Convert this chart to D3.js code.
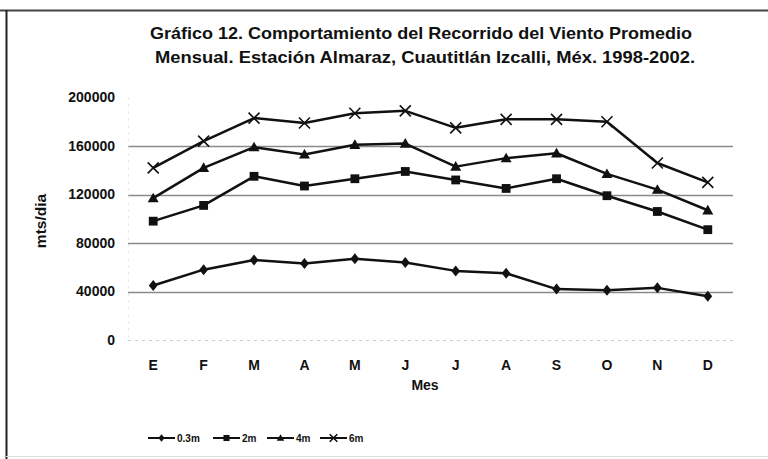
<!DOCTYPE html>
<html>
<head>
<meta charset="utf-8">
<script src="https://cdn.jsdelivr.net/npm/d3@7"></script>
<style>
  html, body { margin: 0; padding: 0; background: #fff; }
  svg { display: block; }
  text { font-family: "Liberation Sans", Arial, sans-serif; font-weight: bold; fill: #111; }
</style>
</head>
<body>
<svg id="chart" width="768" height="459"></svg>
<script>
// Monthly wind run (m/day) at four measurement heights
const months = ["E", "F", "M", "A", "M", "J", "J", "A", "S", "O", "N", "D"];
const serie03m = [45000, 58000, 66000, 63000, 67000, 64000, 57000, 55000, 42000, 41000, 43000, 36000];
const serie2m  = [98000, 111000, 135000, 127000, 133000, 139000, 132000, 125000, 133000, 119000, 106000, 91000];
const serie4m  = [117000, 142000, 159000, 153000, 161000, 162000, 143000, 150000, 154000, 137000, 124000, 107000];
const serie6m  = [142000, 164000, 183000, 179000, 187000, 189000, 175000, 182000, 182000, 180000, 146000, 130000];
const yTicks = [0, 40000, 80000, 120000, 160000, 200000];
const seriesNames = ["0.3m", "2m", "4m", "6m"];
const markerTypes = ["diamond", "square", "triangle", "x"];

const series = [serie03m, serie2m, serie4m, serie6m].map((values, i) => ({
  name: seriesNames[i], marker: markerTypes[i], values
}));

const svg = d3.select("#chart");
const W = 768, H = 459;
const plot = { left: 128, right: 733, top: 97.5, bottom: 340 };
const FONT = "Liberation Sans, Arial, sans-serif";

// frame
svg.append("line").attr("x1", 0).attr("x2", W).attr("y1", 10.5).attr("y2", 10.5)
  .attr("stroke", "#444").attr("stroke-width", 2);
svg.append("line").attr("x1", 6.5).attr("x2", 6.5).attr("y1", 10).attr("y2", H)
  .attr("stroke", "#222").attr("stroke-width", 2);
svg.append("line").attr("x1", 6).attr("x2", W).attr("y1", 456.5).attr("y2", 456.5)
  .attr("stroke", "#ddd").attr("stroke-width", 1);

// title
const title = svg.append("text").attr("text-anchor", "middle").attr("font-size", 16.5);
title.append("tspan").attr("x", 421).attr("y", 39)
  .attr("textLength", 542).attr("lengthAdjust", "spacingAndGlyphs")
  .text("Gráfico 12. Comportamiento del Recorrido del Viento Promedio");
title.append("tspan").attr("x", 425).attr("y", 63)
  .attr("textLength", 540).attr("lengthAdjust", "spacingAndGlyphs")
  .text("Mensual. Estación Almaraz, Cuautitlán Izcalli, Méx. 1998-2002.");

const x = d3.scaleBand().domain(d3.range(months.length)).range([plot.left, plot.right]);
const y = d3.scaleLinear().domain([0, 200000]).range([plot.bottom, plot.top]);
const cx = i => x(i) + x.bandwidth() / 2;

// gridlines
svg.append("g").selectAll("line").data(yTicks.filter(t => t > 0 && t < 200000)).join("line")
  .attr("x1", plot.left).attr("x2", plot.right)
  .attr("y1", d => Math.round(y(d)) + 0.5).attr("y2", d => Math.round(y(d)) + 0.5)
  .attr("stroke", "#8a8a8a").attr("stroke-width", 1.5);

// faint axes
svg.append("line").attr("x1", plot.left).attr("x2", plot.right)
  .attr("y1", plot.bottom + 0.5).attr("y2", plot.bottom + 0.5)
  .attr("stroke", "#ccc").attr("stroke-dasharray", "3,4");
svg.append("line").attr("x1", plot.left + 0.5).attr("x2", plot.left + 0.5)
  .attr("y1", plot.top).attr("y2", plot.bottom)
  .attr("stroke", "#e2e2e2").attr("stroke-dasharray", "2,5");

// y axis labels
const yAxis = d3.axisLeft(y).tickValues(yTicks).tickSize(0).tickPadding(0).tickFormat(d3.format("d"));
const gy = svg.append("g").attr("transform", `translate(115,0)`).call(yAxis);
gy.select(".domain").remove();
gy.selectAll("text").attr("font-size", 14).attr("font-family", FONT)
  .attr("font-weight", "bold").attr("fill", "#111");

// x axis labels
const xAxis = d3.axisBottom(x).tickSize(0).tickPadding(0).tickFormat(i => months[i]);
const gx = svg.append("g").attr("transform", `translate(0,360)`).call(xAxis);
gx.select(".domain").remove();
gx.selectAll("text").attr("font-size", 14).attr("font-family", FONT)
  .attr("font-weight", "bold").attr("fill", "#111");

// axis titles
svg.append("text").attr("x", 425).attr("y", 390).attr("text-anchor", "middle")
  .attr("font-size", 14).text("Mes");
svg.append("text").attr("transform", "translate(46,221) rotate(-90)")
  .attr("text-anchor", "middle").attr("font-size", 15.5).text("mts/dia");

// markers
function drawMarker(g, type, px, py, s) {
  if (type === "diamond") {
    g.append("path").attr("d", `M${px},${py - s}L${px + s * 0.8},${py}L${px},${py + s}L${px - s * 0.8},${py}Z`).attr("fill", "#111");
  } else if (type === "square") {
    g.append("rect").attr("x", px - s * 0.8).attr("y", py - s * 0.8)
      .attr("width", s * 1.6).attr("height", s * 1.6).attr("fill", "#111");
  } else if (type === "triangle") {
    g.append("path").attr("d", `M${px},${py - s}L${px + s},${py + s * 0.75}L${px - s},${py + s * 0.75}Z`).attr("fill", "#111");
  } else {
    g.append("path").attr("d", `M${px - s},${py - s}L${px + s},${py + s}M${px - s},${py + s}L${px + s},${py - s}`)
      .attr("stroke", "#111").attr("stroke-width", 1.6).attr("fill", "none");
  }
}

const line = d3.line().x((d, i) => cx(i)).y(d => y(d));
series.forEach(s => {
  const g = svg.append("g");
  g.append("path").datum(s.values).attr("d", line)
    .attr("fill", "none").attr("stroke", "#111").attr("stroke-width", 2.5).attr("stroke-linejoin", "round");
  s.values.forEach((v, i) => drawMarker(g, s.marker, cx(i), y(v), 5.5));
});

// legend
const legendX = [148, 213, 267, 320];
const legendY = 438;
series.forEach((s, i) => {
  const g = svg.append("g");
  const x0 = legendX[i];
  g.append("line").attr("x1", x0).attr("x2", x0 + 27).attr("y1", legendY).attr("y2", legendY)
    .attr("stroke", "#111").attr("stroke-width", 2);
  drawMarker(g, s.marker, x0 + 13.5, legendY, 3.8);
  g.append("text").attr("x", x0 + 29).attr("y", legendY + 3.5).attr("font-size", 10).text(s.name);
});
</script>
</body>
</html>
